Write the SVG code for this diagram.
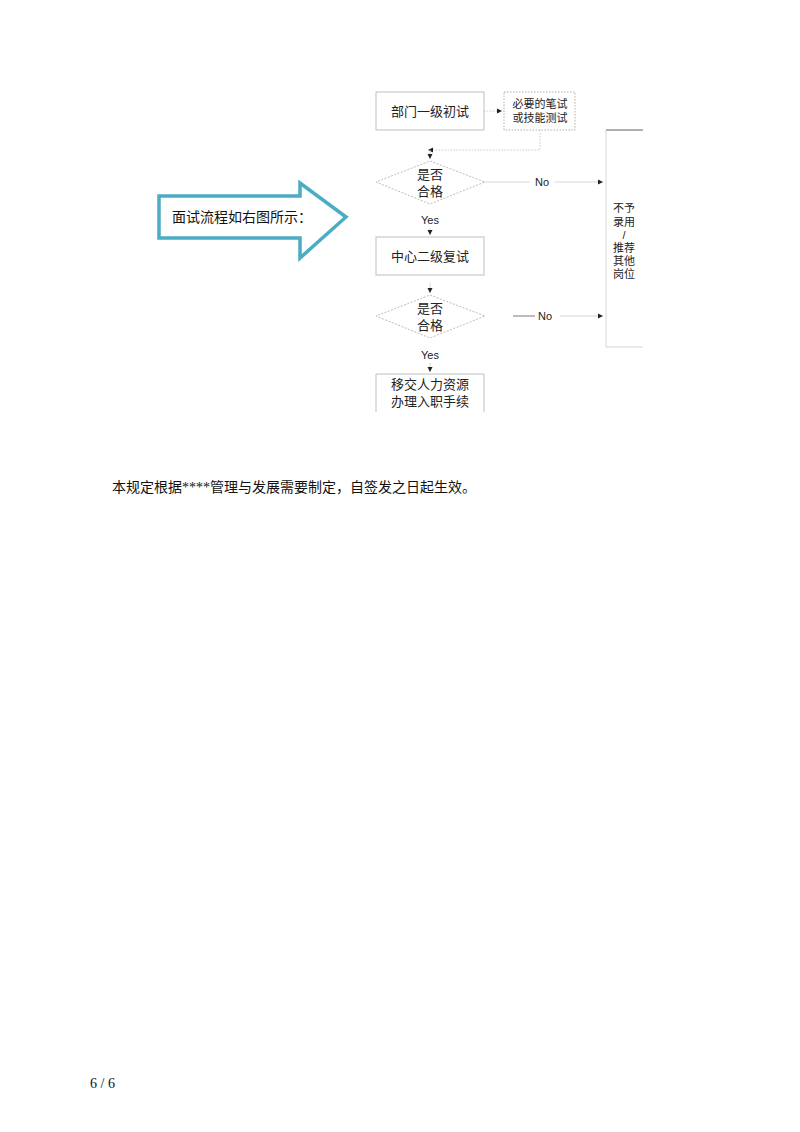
<svg xmlns="http://www.w3.org/2000/svg" width="800" height="1132" viewBox="0 0 800 1132">
<defs>
<style>
.box{fill:#fff;stroke:#bfbfbf;stroke-width:1}
.dot{fill:#fff;stroke:#999;stroke-width:0.8;stroke-dasharray:1.5,1.5}
.dia{fill:#fff;stroke:#aaa;stroke-width:0.8;stroke-dasharray:2,1.5}
.ln{fill:none;stroke:#ccc;stroke-width:0.8}
.dl{fill:none;stroke:#bbb;stroke-width:0.8;stroke-dasharray:1.5,1.5}
.t{font-family:"Liberation Sans","Noto Sans CJK SC",sans-serif;fill:#222;text-anchor:middle}
.s{font-family:"Liberation Serif","Noto Sans CJK SC",serif;fill:#111}
</style>
<marker id="ah" markerWidth="6" markerHeight="6" refX="5" refY="3" orient="auto" markerUnits="userSpaceOnUse"><path d="M0,0.5 L5,3 L0,5.5 Z" fill="#222"/></marker>
</defs>
<g id="bigarrow">
<path d="M159,196 H300 V183 L346,217 L300,258 V238 H159 Z" fill="#fff" stroke="#4BACC6" stroke-width="3.5" stroke-linejoin="miter"/>
<text class="s" x="172" y="222" font-size="14">面试流程如右图所示：</text>
</g>
<g id="connectors">
<line class="dl" x1="484" y1="111" x2="502" y2="111" marker-end="url(#ah)"/>
<path class="dl" d="M540,130 V150 H428" marker-end="url(#ah)"/>
<line class="ln" x1="430" y1="150" x2="430" y2="159" marker-end="url(#ah)"/>
<line class="ln" x1="485" y1="182" x2="530" y2="182"/>
<line class="ln" x1="555" y1="182" x2="603" y2="182" marker-end="url(#ah)"/>
<text class="t" x="542" y="186" font-size="11">No</text>
<text class="t" x="430" y="224" font-size="11">Yes</text>
<line class="ln" x1="430" y1="228" x2="430" y2="235" marker-end="url(#ah)"/>
<line class="ln" x1="430" y1="283" x2="430" y2="293" marker-end="url(#ah)"/>
<line x1="513" y1="316" x2="535" y2="316" stroke="#555" stroke-width="0.8"/>
<text class="t" x="545" y="320" font-size="11">No</text>
<line class="ln" x1="560" y1="316" x2="603" y2="316" marker-end="url(#ah)"/>
<text class="t" x="430" y="359" font-size="11">Yes</text>
<line class="ln" x1="430" y1="363" x2="430" y2="372" marker-end="url(#ah)"/>
</g>
<g id="n1"><rect class="box" x="376" y="92" width="108" height="38"/><text class="t" x="430" y="116" font-size="13">部门一级初试</text></g>
<g id="n2"><rect class="dot" x="504" y="92" width="71" height="38"/><text class="t" x="540" y="108" font-size="11">必要的笔试</text><text class="t" x="540" y="122" font-size="11">或技能测试</text></g>
<g id="d1"><polygon class="dia" points="430,161 485,182 430,204 376,182"/><text class="t" x="430" y="179" font-size="13">是否</text><text class="t" x="430" y="196" font-size="13">合格</text></g>
<g id="n3"><rect class="box" x="376" y="237" width="108" height="38"/><text class="t" x="430" y="261" font-size="13">中心二级复试</text></g>
<g id="d2"><polygon class="dia" points="430,295 485,316 430,338 376,316"/><text class="t" x="430" y="313" font-size="13">是否</text><text class="t" x="430" y="330" font-size="13">合格</text></g>
<g id="n4"><path d="M376,412 V374 H484 V412" class="box"/><text class="t" x="430" y="389" font-size="13">移交人力资源</text><text class="t" x="430" y="406" font-size="13">办理入职手续</text></g>
<g id="n5"><path d="M643,130 H606 V347 H643" fill="none" stroke="#ccc" stroke-width="0.8"/><line x1="606" y1="130" x2="643" y2="130" stroke="#555" stroke-width="0.8"/>
<text class="t" x="624" y="212" font-size="11">不予</text><text class="t" x="624" y="226" font-size="11">录用</text><text class="t" x="624" y="239" font-size="11">/</text><text class="t" x="624" y="252" font-size="11">推荐</text><text class="t" x="624" y="265" font-size="11">其他</text><text class="t" x="624" y="278" font-size="11">岗位</text></g>
<text class="s" x="112" y="492" font-size="14">本规定根据****管理与发展需要制定，自签发之日起生效。</text>
<text class="s" x="90" y="1088" font-size="14">6 / 6</text>
</svg>
